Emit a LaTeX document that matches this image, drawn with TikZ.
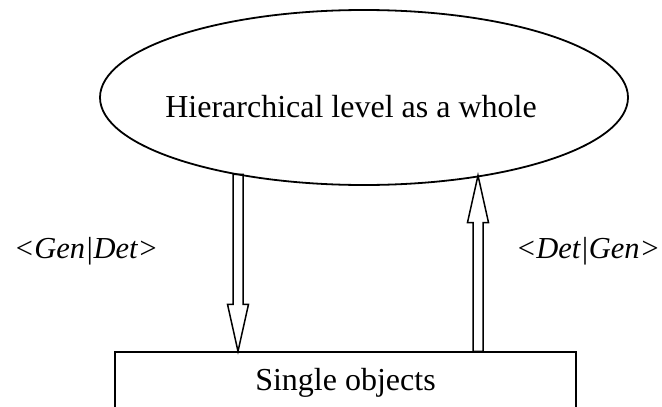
\documentclass[tikz,border=0pt]{standalone}
\usepackage{fontspec}
\setmainfont{Liberation Serif}
\usetikzlibrary{shapes.geometric,calc}
\tikzset{
  txt/.style={font=\fontsize{32}{38}\selectfont, inner sep=0pt},
  lbl/.style={font=\fontsize{30.5}{36}\selectfont\itshape, inner sep=0pt, anchor=base},
  hollowarrow/.style={draw, line width=1.5pt, line join=miter, to path={
    ($(\tikztostart)!5pt!90:(\tikztotarget)$) --
    ($($(\tikztotarget)!47pt!(\tikztostart)$)!5pt!-90:(\tikztostart)$) --
    ($($(\tikztotarget)!47pt!(\tikztostart)$)!10.5pt!-90:(\tikztostart)$) --
    (\tikztotarget) --
    ($($(\tikztotarget)!47pt!(\tikztostart)$)!10.5pt!90:(\tikztostart)$) --
    ($($(\tikztotarget)!47pt!(\tikztostart)$)!5pt!90:(\tikztostart)$) --
    ($(\tikztostart)!5pt!-90:(\tikztotarget)$) -- cycle}}
}
\begin{document}
\begin{tikzpicture}[x=1pt,y=-1pt]
\useasboundingbox (0,0) rectangle (662,407);
\clip (0,0) rectangle (662,407);
\node[ellipse, draw, line width=1.8pt, minimum width=528, minimum height=175, inner sep=0pt] (E) at (364,97.5) {};
\node[txt, anchor=base] (Et) at (351,117) {Hierarchical level as a whole};
\node[draw, line width=1.4pt, minimum width=461, minimum height=61, inner sep=0pt] (B) at (345.5,382.5) {};
\node[txt, anchor=base] (Bt) at (345.5,390) {Single objects};
\coordinate (d1) at (238,174.4);
\coordinate (d2) at (B.north -| d1);
\coordinate (u1) at (B.north -| 478,0);
\coordinate (u2) at (478,175.5);
\draw[hollowarrow] (d1) to (d2);
\draw[hollowarrow] (u1) to (u2);
\node[lbl] (L1) at (86,258) {<Gen|Det>};
\node[lbl] (L2) at (588,258) {<Det|Gen>};
\end{tikzpicture}
\end{document}
